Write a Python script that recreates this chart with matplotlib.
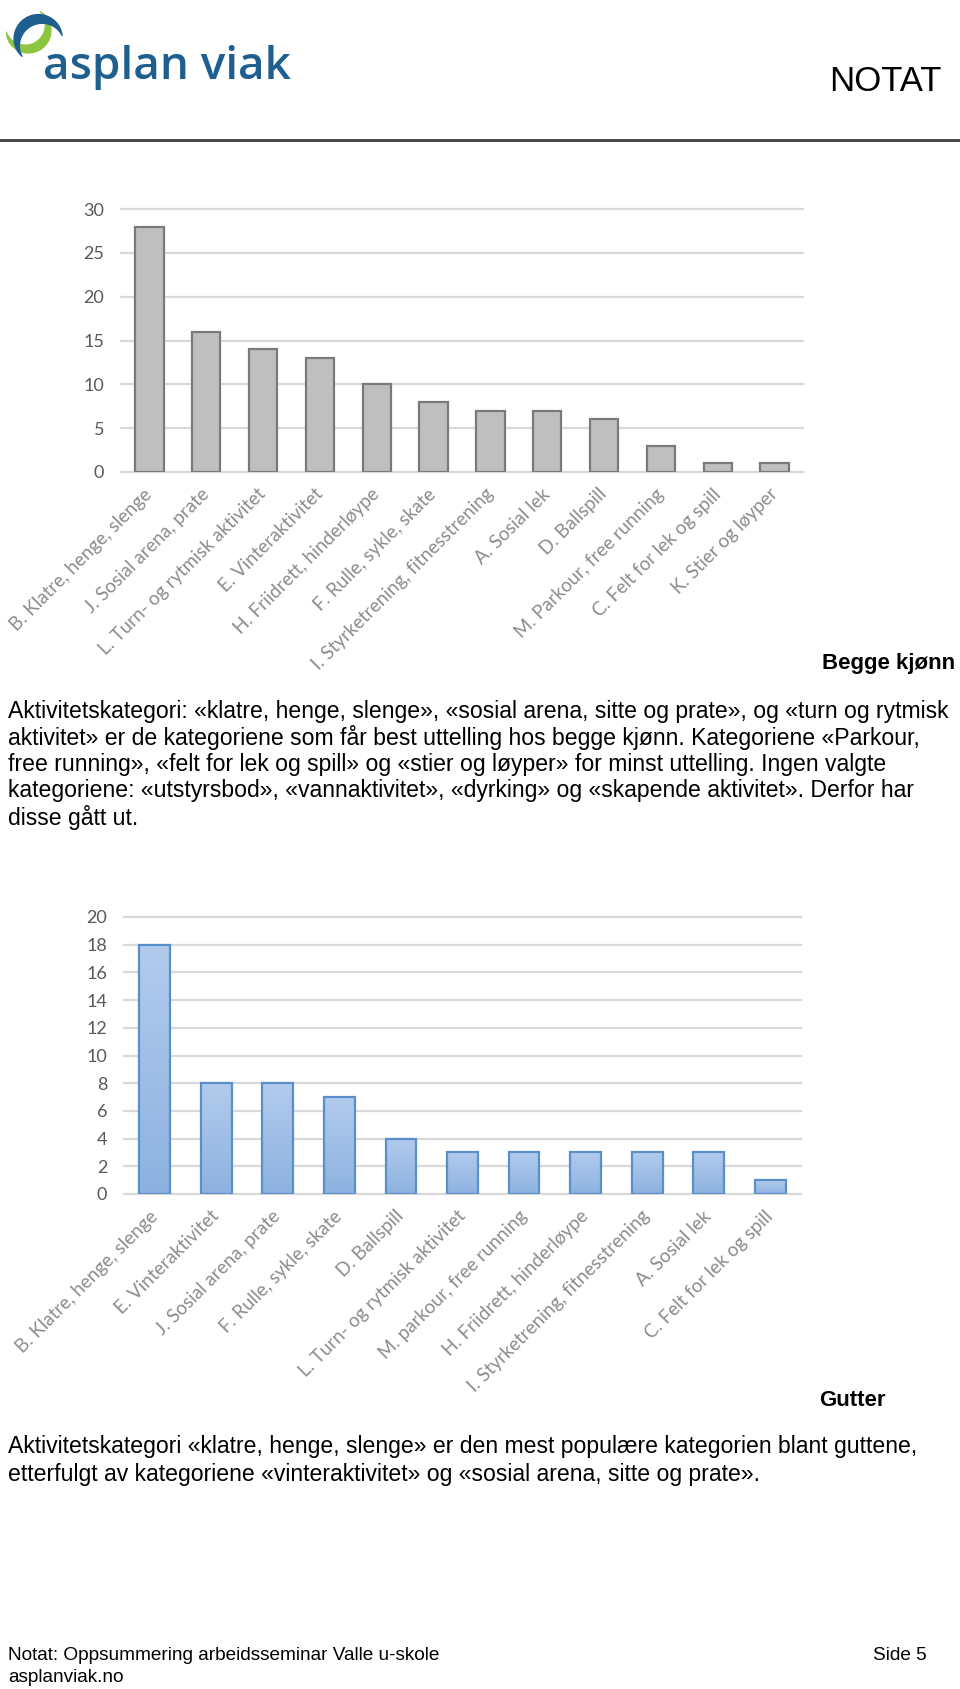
import numpy as np
import matplotlib
matplotlib.use("Agg")
import matplotlib.pyplot as plt
from matplotlib.colors import LinearSegmentedColormap

#%% Data
begge_kat = ["B. Klatre, henge, slenge", "J. Sosial arena, prate", "L. Turn- og rytmisk aktivitet",
             "E. Vinteraktivitet", "H. Friidrett, hinderløype", "F. Rulle, sykle, skate",
             "I. Styrketrening, fitnesstrening", "A. Sosial lek", "D. Ballspill",
             "M. Parkour, free running", "C. Felt for lek og spill", "K. Stier og løyper"]
begge_verdi = [28, 16, 14, 13, 10, 8, 7, 7, 6, 3, 1, 1]
begge_ticks = [0, 5, 10, 15, 20, 25, 30]

gutter_kat = ["B. Klatre, henge, slenge", "E. Vinteraktivitet", "J. Sosial arena, prate",
              "F. Rulle, sykle, skate", "D. Ballspill", "L. Turn- og rytmisk aktivitet",
              "M. parkour, free running", "H. Friidrett, hinderløype",
              "I. Styrketrening, fitnesstrening", "A. Sosial lek", "C. Felt for lek og spill"]
gutter_verdi = [18, 8, 8, 7, 4, 3, 3, 3, 3, 3, 1]
gutter_ticks = [0, 2, 4, 6, 8, 10, 12, 14, 16, 18, 20]

avsnitt1 = ["Aktivitetskategori: «klatre, henge, slenge», «sosial arena, sitte og prate», og «turn og rytmisk",
            "aktivitet» er de kategoriene som får best uttelling hos begge kjønn. Kategoriene «Parkour,",
            "free running», «felt for lek og spill» og «stier og løyper» for minst uttelling. Ingen valgte",
            "kategoriene: «utstyrsbod», «vannaktivitet», «dyrking» og «skapende aktivitet». Derfor har",
            "disse gått ut."]
avsnitt2 = ["Aktivitetskategori «klatre, henge, slenge» er den mest populære kategorien blant guttene,",
            "etterfulgt av kategoriene «vinteraktivitet» og «sosial arena, sitte og prate»."]

#%% Figure / page
W, H = 960, 1689
fig = plt.figure(figsize=(W / 100, H / 100), dpi=100)
page = fig.add_axes([0, 0, 1, 1])
page.set_xlim(0, W)
page.set_ylim(H, 0)
page.axis("off")

body = dict(family="Liberation Sans", fontsize=16.55, color="black", va="center")

# logo
def halvmane(cx, cy, r, a0, a1, w, farge):
    t = np.linspace(np.radians(a0), np.radians(a1), 80)
    tykk = w * np.sin(np.pi * (t - t[0]) / (t[-1] - t[0])) + 1.0
    ytre = np.c_[cx + (r + tykk / 2) * np.cos(t), cy - (r + tykk / 2) * np.sin(t)]
    indre = np.c_[cx + (r - tykk / 2) * np.cos(t), cy - (r - tykk / 2) * np.sin(t)][::-1]
    page.fill(*np.vstack([ytre, indre]).T, color=farge, lw=0)

halvmane(27, 28, 21, 190, 412, 9, "#8cc63f")
halvmane(40, 42, 23, 15, 220, 10, "#1f5f8f")
page.text(43, 79, "asplan viak", family="Open Sans", fontsize=33, fontweight="semibold",
          color="#1f5f8f", va="baseline", ha="left")
page.text(941, 81, "NOTAT", family="Liberation Sans", fontsize=25, ha="right", va="center")
page.plot([0, W], [140, 140], color="#3f3f3f", lw=2)

# tekst
page.text(955, 664, "Begge kjønn", family="Liberation Sans", fontsize=16, fontweight="bold",
          ha="right", va="center")
for i, linje in enumerate(avsnitt1):
    page.text(8, 711 + i * 26.5, linje, ha="left", **body)
page.text(886, 1400, "Gutter", family="Liberation Sans", fontsize=16, fontweight="bold",
          ha="right", va="center")
for i, linje in enumerate(avsnitt2):
    page.text(8, 1447 + i * 27, linje, ha="left", **body)
page.text(8, 1655, "Notat: Oppsummering arbeidsseminar Valle u-skole", family="Liberation Sans",
          fontsize=13.7, va="center")
page.text(927, 1655, "Side 5", family="Liberation Sans", fontsize=13.7, va="center", ha="right")
page.text(8, 1677, "asplanviak.no", family="Liberation Sans", fontsize=13.7, va="center")

#%% Diagram
def akse(x0, x1, y0, y1):
    ax = fig.add_axes([x0 / W, 1 - y0 / H, (x1 - x0) / W, (y0 - y1) / H])
    for s in ax.spines.values():
        s.set_visible(False)
    return ax

def pynt(ax, kat, ticks):
    ax.set_xlim(-0.5, len(kat) - 0.5)
    ax.set_ylim(ticks[0], ticks[-1])
    ax.set_yticks(ticks)
    ax.set_yticklabels([str(t) for t in ticks], family="Lato", fontsize=13, color="#595959")
    ax.set_xticks(range(len(kat)))
    ax.set_xticklabels(kat, rotation=45, ha="right", va="center", rotation_mode="anchor",
                       family="Lato", fontsize=13.5, color="#8c8c8c")
    ax.tick_params(axis="x", length=0, pad=14)
    ax.tick_params(axis="y", length=0, pad=12)
    ax.yaxis.grid(True, color="#d9d9d9", lw=1.6, clip_on=False)
    ax.set_axisbelow(True)
    ax.patch.set_alpha(0)

ax1 = akse(121, 803, 472, 209)
ax1.bar(range(len(begge_kat)), begge_verdi, width=0.5, color="#bfbfbf",
        edgecolor="#7a7a7a", linewidth=1.6, zorder=3)
pynt(ax1, begge_kat, begge_ticks)

ax2 = akse(124, 801, 1194, 917)
stolper = ax2.bar(range(len(gutter_kat)), gutter_verdi, width=0.5, color="none",
                  edgecolor="#5b8fca", linewidth=1.6, zorder=4)
gradient = LinearSegmentedColormap.from_list("blaa", ["#8db2e0", "#b2cbed"])
for b in stolper:
    ax2.imshow(np.linspace(0, 1, 100).reshape(-1, 1), cmap=gradient, origin="lower",
               extent=(b.get_x(), b.get_x() + b.get_width(), 0, b.get_height()),
               aspect="auto", zorder=3)
pynt(ax2, gutter_kat, gutter_ticks)

fig.savefig("out.png", dpi=100)
